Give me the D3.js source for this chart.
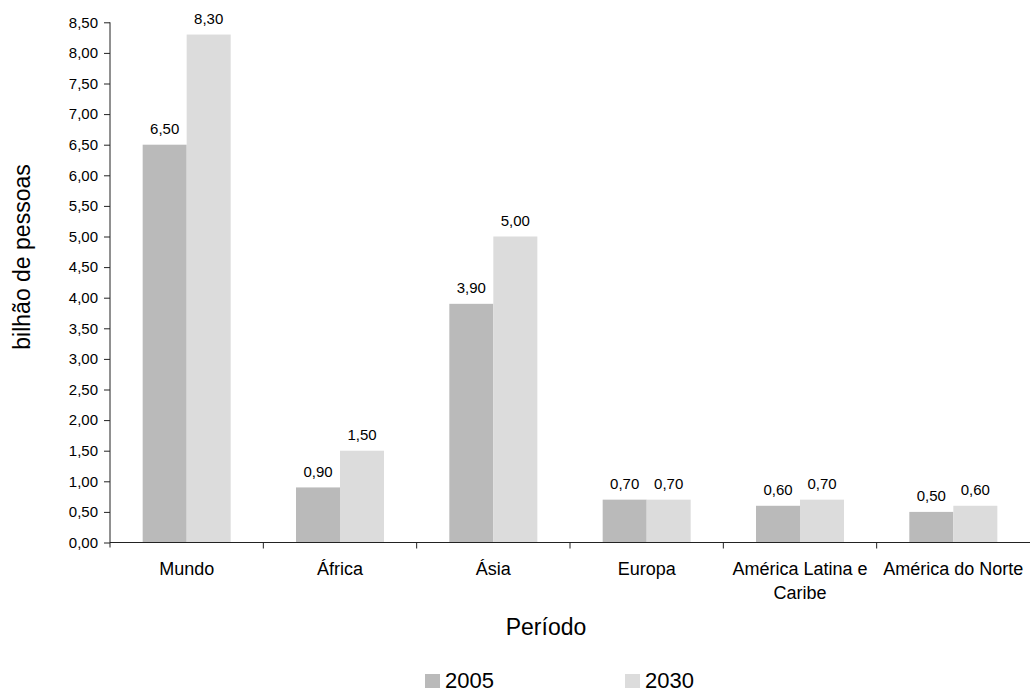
<!DOCTYPE html>
<html><head><meta charset="utf-8">
<script src="https://cdn.jsdelivr.net/npm/d3@7"></script>
<style>body{margin:0;background:#fff;} text{font-family:"Liberation Sans",Arial,sans-serif;fill:#000;}</style>
</head><body>
<svg id="c" width="1030" height="693"></svg>
<script>
const categories = ["Mundo", "África", "Ásia", "Europa", "América Latina e Caribe", "América do Norte"];
const series2005 = [6.5, 0.9, 3.9, 0.7, 0.6, 0.5];
const series2030 = [8.3, 1.5, 5.0, 0.7, 0.7, 0.6];
const seriesNames = ["2005", "2030"];
const colors = ["#bababa", "#dcdcdc"];
const yTicks = d3.range(0, 8.51, 0.5);

(function () {
const svg = d3.select("#c");
const mLeft = 110, mRight = 1030, mBottom = 542.5, mTop = 542.5 - 8.5 * 61.2;
const x = d3.scaleBand().domain(categories).range([mLeft, mRight]);
const x1 = d3.scaleBand().domain(seriesNames).range([0, 88]);
const y = d3.scaleLinear().domain([0, 8.5]).range([mBottom, mTop]);
const fmt = v => v.toFixed(2).replace(".", ",");

const data = categories.map((c, i) => ({c, vals: [series2005[i], series2030[i]]}));

const g = svg.append("g");
const groups = g.selectAll("g.grp").data(data).join("g")
  .attr("transform", d => `translate(${x(d.c) + (x.bandwidth() - 88) / 2},0)`);
groups.selectAll("rect").data(d => d.vals.map((v, j) => ({v, s: seriesNames[j], j}))).join("rect")
  .attr("x", d => x1(d.s)).attr("width", x1.bandwidth())
  .attr("y", d => y(d.v)).attr("height", d => y(0) - y(d.v))
  .attr("fill", d => colors[d.j]);
groups.selectAll("text").data(d => d.vals.map((v, j) => ({v, s: seriesNames[j]}))).join("text")
  .attr("x", d => x1(d.s) + x1.bandwidth() / 2).attr("y", d => y(d.v) - 10.5)
  .attr("text-anchor", "middle").attr("font-size", 15).text(d => fmt(d.v));

// Y axis
const ya = svg.append("g").attr("transform", `translate(${mLeft},0)`)
  .call(d3.axisLeft(y).tickValues(yTicks).tickFormat(fmt).tickSize(6).tickSizeOuter(0));
ya.select(".domain").attr("stroke", "#222").attr("d", `M0,${mTop}V${mBottom + 5}`);
ya.selectAll(".tick line").attr("stroke", "#222");
ya.selectAll(".tick text").attr("font-size", 15).attr("font-family", "Liberation Sans, Arial, sans-serif").attr("fill", "#000").attr("x", -12);

// X axis
const xa = svg.append("g").attr("transform", `translate(0,${mBottom})`);
xa.append("line").attr("x1", mLeft).attr("x2", mRight).attr("stroke", "#222");
const bounds = categories.slice(1).map(c => x(c));
xa.selectAll("line.t").data(bounds).join("line").attr("class", "t")
  .attr("x1", d => d).attr("x2", d => d).attr("y1", 0).attr("y2", 6).attr("stroke", "#222");
const catLines = {"América Latina e Caribe": ["América Latina e", "Caribe"]};
xa.selectAll("text.cat").data(categories).join("text").attr("class", "cat")
  .attr("text-anchor", "middle").attr("font-size", 18)
  .each(function(c) {
    const lines = catLines[c] || [c];
    d3.select(this).selectAll("tspan").data(lines).join("tspan")
      .attr("x", x(c) + x.bandwidth() / 2).attr("y", (d, i) => 32 + i * 24).text(d => d);
  });

// Titles
svg.append("text").attr("transform", `translate(30,257) rotate(-90)`)
  .attr("text-anchor", "middle").attr("font-size", 23).text("bilhão de pessoas");
svg.append("text").attr("x", 546).attr("y", 635).attr("text-anchor", "middle")
  .attr("font-size", 23).text("Período");

// Legend
const legX = [425, 625];
const lg = svg.selectAll("g.leg").data(seriesNames).join("g")
  .attr("transform", (d, i) => `translate(${legX[i]},674)`);
lg.append("rect").attr("width", 15).attr("height", 14).attr("fill", (d, i) => colors[i]);
lg.append("text").attr("x", 20).attr("y", 14).attr("font-size", 22).text(d => d);
})();
</script>
</body></html>
